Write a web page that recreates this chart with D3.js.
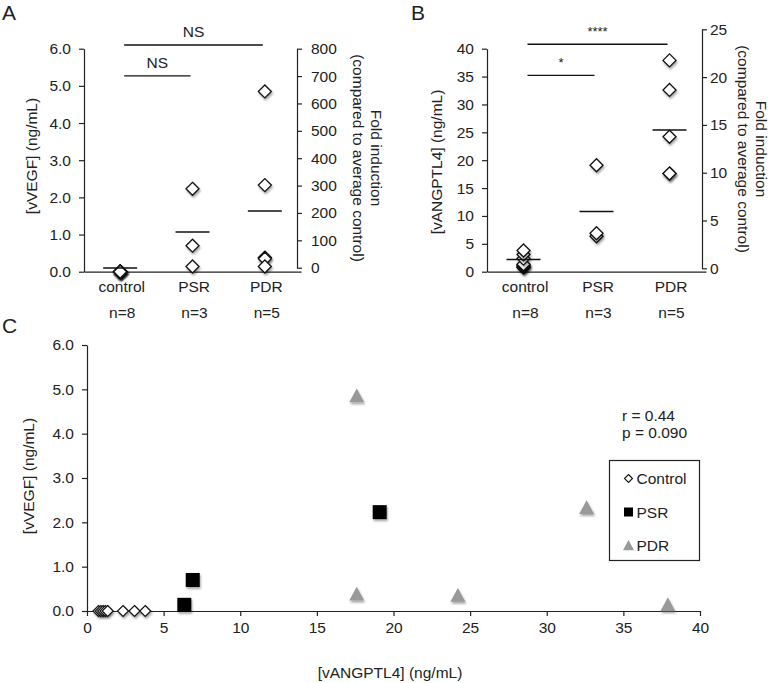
<!DOCTYPE html>
<html>
<head>
<meta charset="utf-8">
<script src="https://cdn.jsdelivr.net/npm/d3@7"></script>
<style>
  body { margin: 0; background: #fff; }
  svg text { font-family: "Liberation Sans", Arial, Helvetica, sans-serif; fill: #222; }
  .axis path, .axis line { stroke: #222; stroke-width: 1.2; }
  .axis text { font-size: 15.5px; }
</style>
</head>
<body>
<div id="chart"></div>
<script>
// ---- data ----
var groups = ["control", "PSR", "PDR"];
var groupN = ["n=8", "n=3", "n=5"];

// vANGPTL4 (ng/mL) per patient
var ctrlANG = [0.75, 0.9, 1.05, 1.2, 1.35, 2.35, 3.1, 3.8];
var psrANG  = [6.35, 6.9, 19.1];
var pdrANG  = [17.6, 17.6, 24.2, 32.6, 37.9];

// vVEGF (ng/mL) per patient (same order)
var ctrlVEGF = [0, 0, 0, 0, 0, 0, 0, 0];
var psrVEGF  = [0.14, 0.7, 2.23];
var pdrVEGF  = [4.85, 0.38, 0.35, 2.33, 0.14];

// group mean bars as drawn
var meanVEGF = [0.1, 1.07, 1.63];
var meanANG  = [2.2, 10.8, 25.4];

var vegfTicks = [0, 1, 2, 3, 4, 5, 6];
var vegfFoldTicks = [0, 100, 200, 300, 400, 500, 600, 700, 800];
var angTicks = [0, 5, 10, 15, 20, 25, 30, 35, 40];
var angFoldTicks = [0, 5, 10, 15, 20, 25];
var scatterXTicks = [0, 5, 10, 15, 20, 25, 30, 35, 40];

var sigA = [{from: "control", to: "PDR", y: 6.1, label: "NS"},
            {from: "control", to: "PSR", y: 5.27, label: "NS"}];
var sigB = [{from: "control", to: "PDR", y: 40.8, label: "****"},
            {from: "control", to: "PSR", y: 35.2, label: "*"}];

var svg = d3.select("#chart").append("svg")
    .attr("width", 771)
    .attr("height", 683);

var defs = svg.append("defs");
defs.append("filter")
    .attr("id", "shadow")
    .attr("x", "-50%").attr("y", "-50%")
    .attr("width", "200%").attr("height", "200%")
  .append("feDropShadow")
    .attr("dx", 1).attr("dy", 2)
    .attr("stdDeviation", 1.3)
    .attr("flood-color", "#000")
    .attr("flood-opacity", 0.35);

function diamond(r) {
  return "M0," + (-r) + "L" + r + ",0L0," + r + "L" + (-r) + ",0Z";
}
function square(r) {
  return "M" + (-r) + "," + (-r) + "h" + (2 * r) + "v" + (2 * r) + "h" + (-2 * r) + "Z";
}
function triangle(r) {
  return "M0," + (-r) + "L" + r + "," + (r * 0.85) + "L" + (-r) + "," + (r * 0.85) + "Z";
}

// ---- dot plot panel (A and B) ----
function make_panel(p) {
  var g = svg.append("g");

  var x = d3.scaleBand().domain(groups).range([p.left, p.right + 4]);
  var y = d3.scaleLinear().domain(p.yDomain).range([271.7, 48.7]);
  var yFold = d3.scaleLinear().domain(p.foldDomain).range([p.foldBottom, p.foldTop]);

  // left axis
  g.append("g")
    .attr("class", "axis")
    .attr("transform", "translate(" + p.left + ",0)")
    .call(d3.axisLeft(y).tickValues(p.yTicks).tickFormat(p.yFormat)
      .tickSize(5).tickSizeOuter(0).tickPadding(8));

  // right axis (fold induction)
  g.append("g")
    .attr("class", "axis")
    .attr("transform", "translate(" + p.right + ",0)")
    .call(d3.axisRight(yFold).tickValues(p.foldTicks).tickFormat(d3.format("d"))
      .tickSize(5).tickSizeOuter(0).tickPadding(p.foldPad));

  // category axis
  var xa = g.append("g")
    .attr("class", "axis")
    .attr("transform", "translate(0,271.7)")
    .call(d3.axisBottom(x).tickSize(0).tickSizeOuter(0).tickPadding(9));
  xa.selectAll("text").attr("dx", "0.1em");

  g.selectAll(".nlab")
    .data(groups)
    .enter()
    .append("text")
      .attr("x", function(d) { return x(d) + x.bandwidth() / 2 + 2; })
      .attr("y", 318)
      .attr("text-anchor", "middle")
      .style("font-size", "15.5px")
      .text(function(d, i) { return groupN[i]; });

  // points
  var pts = [];
  p.values.forEach(function(arr, i) {
    arr.forEach(function(v) { pts.push({g: groups[i], v: v}); });
  });
  g.selectAll(".pt")
    .data(pts)
    .enter()
    .append("path")
      .attr("d", diamond(6.5))
      .attr("transform", function(d) {
        return "translate(" + (x(d.g) + x.bandwidth() / 2) + "," + y(d.v) + ")";
      })
      .attr("fill", "#fff")
      .attr("stroke", "#111")
      .attr("stroke-width", 1.3)
      .attr("filter", "url(#shadow)");

  // mean bars
  g.selectAll(".mean")
    .data(p.means)
    .enter()
    .append("line")
      .attr("x1", function(d, i) { return x(groups[i]) + x.bandwidth() / 2 - 17; })
      .attr("x2", function(d, i) { return x(groups[i]) + x.bandwidth() / 2 + 17; })
      .attr("y1", function(d) { return y(d); })
      .attr("y2", function(d) { return y(d); })
      .attr("stroke", "#111")
      .attr("stroke-width", 1.5);

  // significance bars
  p.sig.forEach(function(s) {
    var x1 = x(s.from) + x.bandwidth() / 2 + 4,
        x2 = x(s.to) + x.bandwidth() / 2 - 2;
    g.append("line")
      .attr("x1", x1).attr("x2", x2)
      .attr("y1", y(s.y)).attr("y2", y(s.y))
      .attr("stroke", "#111")
      .attr("stroke-width", 1.3);
    g.append("text")
      .attr("x", (x1 + x2) / 2)
      .attr("y", y(s.y) - 8)
      .attr("text-anchor", "middle")
      .style("font-size", s.label.indexOf("*") >= 0 ? "13px" : "15.5px")
      .text(s.label);
  });

  // titles
  g.append("text")
    .attr("transform", "translate(" + p.yTitleX + "," + p.titleY + ")rotate(-90)")
    .attr("text-anchor", "middle")
    .style("font-size", "15.5px")
    .text(p.yTitle);
  g.append("text")
    .attr("transform", "translate(" + p.foldTitleX + "," + p.foldTitleY + ")rotate(90)")
    .attr("text-anchor", "middle")
    .style("font-size", "15.5px")
    .text("Fold induction");
  g.append("text")
    .attr("transform", "translate(" + (p.foldTitleX - 18) + "," + p.foldTitleY + ")rotate(90)")
    .attr("text-anchor", "middle")
    .style("font-size", "15.5px")
    .text("(compared to average control)");

  g.append("text")
    .attr("x", p.letterX)
    .attr("y", 20)
    .style("font-size", "21px")
    .text(p.letter);
}

make_panel({
  letter: "A", letterX: 2,
  left: 84, right: 297,
  yDomain: [0, 6], yTicks: vegfTicks, yFormat: d3.format(".1f"),
  foldDomain: [0, 800], foldTicks: vegfFoldTicks, foldBottom: 267.7, foldTop: 48.7, foldPad: 9,
  values: [ctrlVEGF, psrVEGF, pdrVEGF], means: meanVEGF, sig: sigA,
  yTitle: "[vVEGF] (ng/mL)", yTitleX: 37, titleY: 156,
  foldTitleX: 371, foldTitleY: 158
});

make_panel({
  letter: "B", letterX: 411,
  left: 487, right: 702,
  yDomain: [0, 40], yTicks: angTicks, yFormat: d3.format("d"),
  foldDomain: [0, 25], foldTicks: angFoldTicks, foldBottom: 268.3, foldTop: 29.3, foldPad: 3,
  values: [ctrlANG, psrANG, pdrANG], means: meanANG, sig: sigB,
  yTitle: "[vANGPTL4] (ng/mL)", yTitleX: 442, titleY: 162,
  foldTitleX: 756, foldTitleY: 149
});

// ---- panel C scatter ----
var cx = d3.scaleLinear().domain([0, 40]).range([87, 700]);
var cy = d3.scaleLinear().domain([0, 6]).range([611, 345]);

svg.append("g")
  .attr("class", "axis")
  .attr("transform", "translate(0,611)")
  .call(d3.axisBottom(cx).tickValues(scatterXTicks).tickFormat(d3.format("d"))
    .tickSize(5).tickSizeOuter(0).tickPadding(6));

svg.append("g")
  .attr("class", "axis")
  .attr("transform", "translate(87,0)")
  .call(d3.axisLeft(cy).tickValues(vegfTicks).tickFormat(d3.format(".1f"))
    .tickSize(5).tickSizeOuter(0).tickPadding(8));

svg.append("text")
  .attr("x", 390).attr("y", 678)
  .attr("text-anchor", "middle")
  .style("font-size", "15.5px")
  .text("[vANGPTL4] (ng/mL)");

svg.append("text")
  .attr("transform", "translate(34,476)rotate(-90)")
  .attr("text-anchor", "middle")
  .style("font-size", "15.5px")
  .text("[vVEGF] (ng/mL)");

svg.append("text")
  .attr("x", 2).attr("y", 333)
  .style("font-size", "21px")
  .text("C");

var series = [
  {name: "Control", xs: ctrlANG, ys: ctrlVEGF, shape: diamond(5.5), fill: "#fff", stroke: "#111", leg: diamond(4)},
  {name: "PSR", xs: psrANG, ys: psrVEGF, shape: square(7), fill: "#000", stroke: "none", leg: square(4.5)},
  {name: "PDR", xs: pdrANG, ys: pdrVEGF, shape: triangle(7.5), fill: "#999", stroke: "none", leg: triangle(5.5)}
];

series.forEach(function(s) {
  svg.selectAll(".c-" + s.name)
    .data(s.xs)
    .enter()
    .append("path")
      .attr("d", s.shape)
      .attr("transform", function(d, i) { return "translate(" + cx(d) + "," + cy(s.ys[i]) + ")"; })
      .attr("fill", s.fill)
      .attr("stroke", s.stroke)
      .attr("stroke-width", 1.2)
      .attr("filter", "url(#shadow)");
});

svg.append("text")
  .attr("x", 622).attr("y", 421)
  .style("font-size", "15.5px")
  .text("r = 0.44");
svg.append("text")
  .attr("x", 622).attr("y", 438)
  .style("font-size", "15.5px")
  .text("p = 0.090");

// legend
var legend = svg.append("g").attr("transform", "translate(609.5,460.5)");
legend.append("rect")
  .attr("width", 90).attr("height", 100)
  .attr("fill", "#fff")
  .attr("stroke", "#222")
  .attr("stroke-width", 1.2);
var li = legend.selectAll(".li")
  .data(series)
  .enter()
  .append("g")
    .attr("transform", function(d, i) { return "translate(19," + (18 + i * 33.5) + ")"; });
li.append("path")
  .attr("d", function(d) { return d.leg; })
  .attr("fill", function(d) { return d.fill; })
  .attr("stroke", function(d) { return d.stroke; })
  .attr("stroke-width", 1.1);
li.append("text")
  .attr("x", 8)
  .attr("y", 5.5)
  .style("font-size", "15.5px")
  .text(function(d) { return d.name; });
</script>
</body>
</html>
